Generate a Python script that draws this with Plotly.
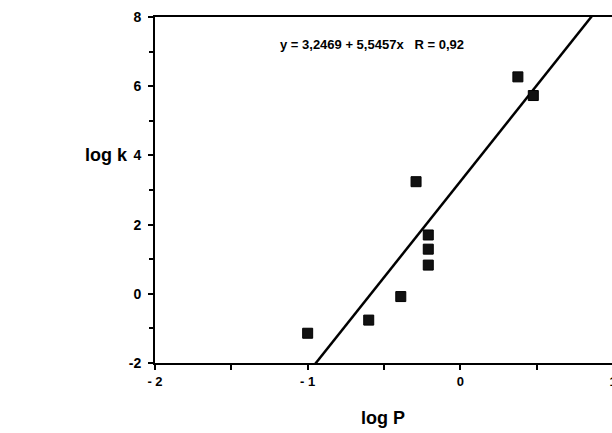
import plotly.graph_objects as go

log_p = [-1.0, -0.60, -0.39, -0.21, -0.21, -0.21, -0.29, 0.377, 0.478]
log_k = [-1.14, -0.76, -0.08, 1.70, 1.29, 0.83, 3.24, 6.27, 5.73]
intercept = 3.2469
slope = 5.5457
line_x = [-2.0, 1.0]
x_ticks = [-2, -1, 0, 1]
x_tick_text = ["- 2", "- 1", "0", "1"]
y_ticks = [-2, 0, 2, 4, 6, 8]
y_tick_text = ["-2", "0", "2", "4", "6", "8"]

FONT = "Liberation Sans, Arial, sans-serif"

fig = go.Figure()
fig.add_trace(go.Scatter(
    x=line_x, y=[intercept + slope * v for v in line_x],
    mode="lines", line=dict(color="black", width=2.5), hoverinfo="skip"))
fig.add_trace(go.Scatter(
    x=log_p, y=log_k, mode="markers",
    marker=dict(symbol="square", size=10, color="#111111",
                line=dict(color="black", width=1))))

fig.update_layout(
    width=613, height=433,
    margin=dict(l=155, r=0, t=17, b=70),
    paper_bgcolor="white", plot_bgcolor="white",
    showlegend=False,
    font=dict(family=FONT, color="black"),
    xaxis=dict(range=[-2, 1], tickvals=x_ticks, ticktext=x_tick_text,
               automargin=False, ticklabeloverflow="allow",
               ticks="outside", ticklen=5, tickwidth=2, tickcolor="black",
               showline=True, linecolor="black", linewidth=2, mirror=True,
               showgrid=False, zeroline=False,
               tickfont=dict(family=FONT, size=13, color="black", weight="bold"),
               minor=dict(tickvals=[-1.5, -0.5, 0.5], ticks="outside", ticklen=5,
                          tickwidth=2, tickcolor="black", showgrid=False)),
    yaxis=dict(range=[-2, 8], tickvals=y_ticks, ticktext=y_tick_text,
               automargin=False, ticklabeloverflow="allow", ticklabelstandoff=4,
               ticks="outside", ticklen=5, tickwidth=2, tickcolor="black",
               showline=True, linecolor="black", linewidth=2, mirror=True,
               showgrid=False, zeroline=False,
               tickfont=dict(family=FONT, size=14, color="black", weight="bold"),
               minor=dict(tickvals=[-1, 1, 3, 5, 7], ticks="outside", ticklen=4,
                          tickwidth=2, tickcolor="black", showgrid=False)),
)

fig.add_annotation(xref="paper", yref="paper", x=(372 - 155) / 458, y=1 - (44 - 17) / 346,
                   text="y = 3,2469 + 5,5457x   R = 0,92", showarrow=False,
                   font=dict(family=FONT, size=13, color="black", weight="bold"),
                   xanchor="center", yanchor="middle")
fig.add_annotation(xref="paper", yref="paper", x=(106 - 155) / 458, y=1 - (155 - 17) / 346,
                   text="log k", showarrow=False,
                   font=dict(family=FONT, size=18, color="black", weight="bold"),
                   xanchor="center", yanchor="middle")
fig.add_annotation(xref="paper", yref="paper", x=(383 - 155) / 458, y=1 - (418 - 17) / 346,
                   text="log P", showarrow=False,
                   font=dict(family=FONT, size=18, color="black", weight="bold"),
                   xanchor="center", yanchor="middle")

fig.write_html("out.html", config={"displayModeBar": False},
               post_script="document.body.style.margin='0px';document.body.style.overflow='hidden';")
